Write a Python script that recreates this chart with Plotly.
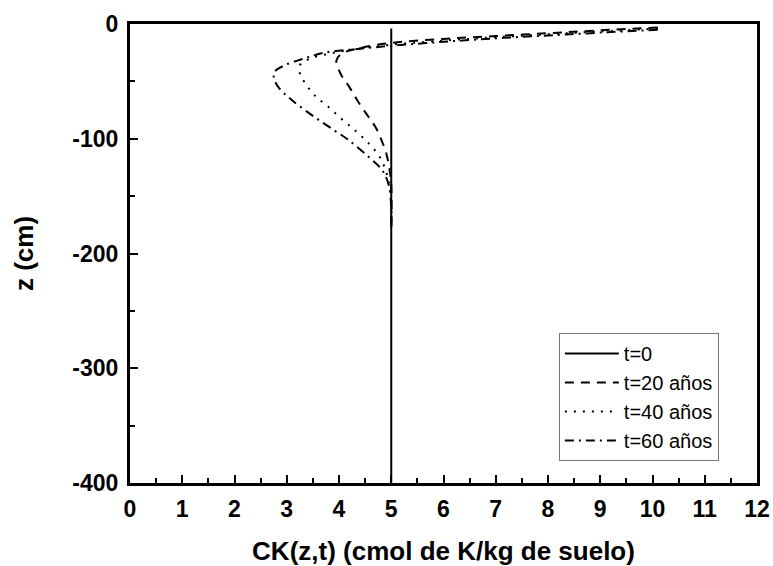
import plotly.graph_objects as go

# t = 0
x_t0 = [5.0, 5.0]
z_t0 = [-4, -400]

# t = 20 años
x_t20 = [10.1, 9.0, 8.0, 7.0, 6.0, 5.0, 4.4, 4.05, 3.95, 4.05, 4.2, 4.37, 4.55, 4.7, 4.82, 4.9, 4.96, 5.0, 5.0]
z_t20 = [-3, -5.5, -8, -10.5, -13, -16.5, -21, -26, -32, -45, -55, -68, -80, -90, -102, -112, -125, -140, -175]

# t = 40 años
x_t40 = [10.1, 9.0, 8.0, 7.0, 6.0, 5.0, 4.3, 3.8, 3.45, 3.25, 3.25, 3.33, 3.53, 3.79, 4.08, 4.34, 4.59, 4.78, 4.91, 4.98, 5.0]
z_t40 = [-4, -6.5, -9, -11.5, -14.5, -18, -22, -26, -30, -36, -43, -50, -62, -72, -84, -94, -105, -116, -130, -145, -175]

# t = 60 años
x_t60 = [10.1, 9.0, 8.0, 7.0, 6.0, 5.0, 4.3, 3.72, 3.34, 2.96, 2.76, 2.76, 2.84, 3.09, 3.53, 3.92, 4.18, 4.57, 4.82, 4.95, 5.0, 5.0]
z_t60 = [-5, -7.5, -10, -12.5, -15.5, -19, -22, -25, -30, -36, -42, -48, -55, -66, -81, -93, -101, -116, -127, -140, -160, -180]

x_ticks = list(range(0, 13))
y_ticks = [0, -100, -200, -300, -400]

FAM = "Liberation Sans, Arial, sans-serif"

fig = go.Figure()
fig.add_trace(go.Scatter(x=x_t0, y=z_t0, mode="lines", name="t=0",
                         line=dict(color="black", width=2, dash="solid")))
fig.add_trace(go.Scatter(x=x_t20, y=z_t20, mode="lines", name="t=20 años",
                         line=dict(color="black", width=2, dash="9px,7px", shape="spline")))
fig.add_trace(go.Scatter(x=x_t40, y=z_t40, mode="lines", name="t=40 años",
                         line=dict(color="black", width=2, dash="2px,7px", shape="spline")))
fig.add_trace(go.Scatter(x=x_t60, y=z_t60, mode="lines", name="t=60 años",
                         line=dict(color="black", width=2, dash="9px,5px,2px,5px", shape="spline")))

tickfont = dict(family=FAM, size=23, color="black", weight="bold")
titlefont = dict(family=FAM, size=26, color="black", weight="bold")

fig.update_layout(
    width=773, height=566,
    margin=dict(l=130, r=16, t=24, b=83),
    paper_bgcolor="white", plot_bgcolor="white",
    showlegend=True,
    legend=dict(x=0.684, y=0.327, xanchor="left", yanchor="top",
                bordercolor="#777777", borderwidth=1, bgcolor="white",
                font=dict(family=FAM, size=20, color="black"),
                tracegroupgap=0, itemwidth=54),
)
fig.update_xaxes(range=[0, 12], tickvals=x_ticks, ticktext=[str(v) for v in x_ticks],
                 ticks="inside", ticklen=8, tickwidth=2, tickcolor="black",
                 minor=dict(dtick=0.5, ticks="inside", ticklen=5, tickwidth=2, tickcolor="black", showgrid=False),
                 showline=True, linewidth=3, linecolor="black", mirror=True,
                 showgrid=False, zeroline=False, tickfont=tickfont, automargin=False,
                 ticklabelstandoff=3,
                 title=dict(text="CK(z,t) (cmol de K/kg de suelo)", font=titlefont, standoff=22))
fig.update_yaxes(range=[-400, 0], tickvals=y_ticks, ticktext=[str(v) for v in y_ticks],
                 ticks="inside", ticklen=8, tickwidth=2, tickcolor="black",
                 minor=dict(dtick=50, ticks="inside", ticklen=5, tickwidth=2, tickcolor="black", showgrid=False),
                 showline=True, linewidth=3, linecolor="black", mirror=True,
                 showgrid=False, zeroline=False, tickfont=tickfont, automargin=False,
                 ticklabelstandoff=4,
                 title=dict(text="z (cm)", font=titlefont, standoff=32))

fig.write_html("out.html", config={"displayModeBar": False},
               post_script="document.body.style.margin='0px';")
